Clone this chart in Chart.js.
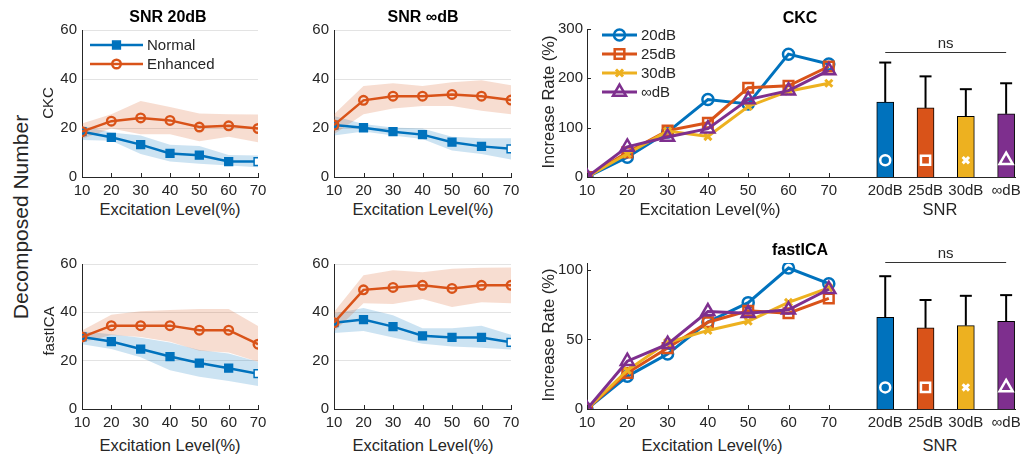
<!DOCTYPE html>
<html>
<head>
<meta charset="utf-8">
<script src="https://cdn.jsdelivr.net/npm/chart.js@4/dist/chart.umd.min.js"></script>
<style>
  html, body { margin: 0; padding: 0; background: #fff; }
  #fig { position: relative; width: 1029px; height: 458px; overflow: hidden;
         font-family: "Liberation Sans", Arial, sans-serif; color: #262626; }
  #fig canvas { position: absolute; }
  .lbl { position: absolute; white-space: nowrap; line-height: 1; }
</style>
</head>
<body>
<div id="fig"></div>
<script>
// ---- data ----
const levels = [10, 20, 30, 40, 50, 60, 70];
const panelYTicks = [0, 20, 40, 60];

// CKC, SNR 20dB
const ckc20Normal   = [18.5, 16.2, 13.2, 9.6, 8.9, 6.3, 6.3];
const ckc20NormalHi = [20.9, 18.2, 16.9, 13.2, 12.7, 9.0, 8.8];
const ckc20NormalLo = [15.1, 14.8, 9.4, 6.3, 5.4, 4.7, 4.0];
const ckc20Enh      = [18.5, 22.8, 24.1, 23.1, 20.4, 20.9, 19.8];
const ckc20EnhHi    = [21.8, 25.6, 31.0, 28.6, 25.9, 25.6, 25.5];
const ckc20EnhLo    = [15.5, 19.8, 17.5, 17.5, 14.6, 16.4, 14.2];

// CKC, SNR inf dB
const ckcInfNormal   = [21.2, 20.1, 18.5, 17.3, 14.2, 12.5, 11.5];
const ckcInfNormalHi = [24.9, 21.6, 20.2, 19.8, 16.4, 15.8, 15.8];
const ckcInfNormalLo = [16.9, 18.6, 16.9, 15.5, 10.8, 9.4, 7.1];
const ckcInfEnh      = [21.2, 31.3, 33.0, 33.0, 33.7, 33.0, 31.4];
const ckcInfEnhHi    = [25.6, 37.1, 38.3, 37.1, 38.7, 39.5, 37.5];
const ckcInfEnhLo    = [17.5, 25.6, 28.0, 29.0, 29.0, 27.0, 25.6];

// fastICA, SNR 20dB
const ica20Normal   = [29.8, 27.9, 24.8, 21.7, 19.0, 16.9, 14.6];
const ica20NormalHi = [32.2, 30.9, 29.5, 27.5, 24.4, 23.0, 19.6];
const ica20NormalLo = [26.8, 24.8, 21.4, 16.0, 13.3, 11.6, 9.5];
const ica20Enh      = [29.8, 34.5, 34.5, 34.5, 32.6, 32.6, 26.8];
const ica20EnhHi    = [32.5, 39.0, 40.4, 41.0, 41.4, 41.4, 34.3];
const ica20EnhLo    = [27.5, 30.6, 29.8, 27.8, 24.1, 23.4, 19.6];

// fastICA, SNR inf dB
const icaInfNormal   = [35.7, 37.0, 34.1, 30.3, 29.6, 29.6, 27.6];
const icaInfNormalHi = [39.5, 41.8, 38.8, 33.4, 33.4, 34.5, 30.7];
const icaInfNormalLo = [31.4, 32.3, 29.6, 27.0, 25.9, 25.3, 24.6];
const icaInfEnh      = [35.7, 49.3, 50.3, 51.2, 49.9, 51.2, 51.2];
const icaInfEnhHi    = [40.1, 55.3, 57.4, 56.6, 58.0, 58.4, 58.6];
const icaInfEnhLo    = [32.0, 43.8, 43.5, 45.5, 42.2, 44.2, 43.8];

// increase rate (%)
const snrLabels = ["20dB", "25dB", "30dB", "\u221EdB"];
const snrPos = [84, 94, 104, 114];
const ckcYTicks = [0, 100, 200, 300];
const ckcRate20  = [0, 40, 91, 157, 148, 249, 229];
const ckcRate25  = [0, 50, 94, 110, 181, 185, 224];
const ckcRate30  = [0, 47, 93, 82, 143, 174, 190];
const ckcRateInf = [0, 61, 81, 98, 157, 175, 216];
const ckcBarMean  = [152, 140, 123, 128];
const ckcBarUpper = [232, 204, 178, 190];

const icaYTicks = [0, 50, 100];
const icaRate20  = [0, 23.5, 39.5, 62.6, 76.5, 101.4, 90.1];
const icaRate25  = [0, 25.9, 43.8, 62.4, 70.6, 68.9, 79.5];
const icaRate30  = [0, 27.8, 47.8, 56.5, 63.1, 76.7, 87.1];
const icaRateInf = [0, 34.4, 46.6, 70.1, 68.9, 71.3, 86.1];
const icaBarMean  = [65.9, 58.3, 60.0, 63.1];
const icaBarUpper = [95.5, 78.4, 81.4, 81.9];

// ---- styling ----
const BLUE = "#0072BD", ORANGE = "#D95319", YELLOW = "#EDB120", PURPLE = "#7E2F8E";
const INK = "#262626";
const FONT = '"Liberation Sans", Arial, sans-serif';
const fig = document.getElementById("fig");
Chart.defaults.font.family = FONT;
Chart.defaults.color = INK;

const pts = (ys) => ys.map((y, i) => ({ x: levels[i], y }));

function makeCanvas(area, yW, xH, padT, padR) {
  const left = area.l - yW, top = area.t - padT;
  const width = area.r + padR - left, height = area.b + xH - top;
  const c = document.createElement("canvas");
  c.width = width; c.height = height;
  Object.assign(c.style, { left: left + "px", top: top + "px", width: width + "px", height: height + "px" });
  fig.appendChild(c);
  return c;
}

function label(text, x, y, size, opt = {}) {
  const d = document.createElement("div");
  d.className = "lbl";
  d.textContent = text;
  d.style.left = x + "px";
  d.style.top = y + "px";
  d.style.fontSize = size + "px";
  if (opt.bold) { d.style.fontWeight = "bold"; d.style.color = "#000"; }
  d.style.transform = "translate(-50%,-50%)" + (opt.rot ? " rotate(-90deg)" : "");
  fig.appendChild(d);
}

function drawMarker(ctx, ds, x, y) {
  const bg = Array.isArray(ds.pointBackgroundColor) ? ds.pointBackgroundColor[1] : ds.pointBackgroundColor;
  ctx.fillStyle = bg;
  ctx.strokeStyle = ds.pointBorderColor;
  ctx.lineWidth = ds.pointBorderWidth;
  Chart.helpers.drawPoint(ctx, { pointStyle: ds.pointStyle, radius: ds.pointRadius, borderWidth: ds.pointBorderWidth, rotation: 0 }, x, y);
}

// inward ticks, error bars, "ns" bracket and a MATLAB-like legend
const decor = {
  id: "decor",
  afterDraw(chart, args, o) {
    const { ctx, chartArea: a, scales } = chart;
    const seg = (x1, y1, x2, y2) => { ctx.beginPath(); ctx.moveTo(x1, y1); ctx.lineTo(x2, y2); ctx.stroke(); };
    ctx.save();
    ctx.strokeStyle = INK; ctx.lineWidth = 1;
    (o.xTicks || []).forEach(v => { const px = Math.round(scales.x.getPixelForValue(v)) + 0.5; seg(px, a.bottom, px, a.bottom - 4); });
    (o.yTicks || []).forEach(v => { const py = Math.round(scales.y.getPixelForValue(v)) + 0.5; seg(a.left, py, a.left + 4, py); });

    if (o.errors) {
      ctx.strokeStyle = "#000"; ctx.lineWidth = 2;
      o.errors.pos.forEach((xv, i) => {
        const px = scales.x.getPixelForValue(xv);
        const y0 = scales.y.getPixelForValue(o.errors.mean[i]);
        const y1 = scales.y.getPixelForValue(o.errors.upper[i]);
        seg(px, y0, px, y1);
        seg(px - 6, y1, px + 6, y1);
      });
    }
    if (o.ns) {
      const x1 = scales.x.getPixelForValue(o.ns.from), x2 = scales.x.getPixelForValue(o.ns.to);
      const py = Math.round(scales.y.getPixelForValue(o.ns.level)) + 0.5;
      ctx.strokeStyle = "#333"; ctx.lineWidth = 1.2;
      seg(x1, py, x2, py);
      ctx.fillStyle = INK; ctx.font = "15px " + FONT;
      ctx.textAlign = "center"; ctx.textBaseline = "bottom";
      ctx.fillText("ns", (x1 + x2) / 2, py - 1);
    }
    if (o.legend) {
      const L = o.legend;
      ctx.font = "15px " + FONT; ctx.textAlign = "left"; ctx.textBaseline = "middle";
      L.items.forEach((idx, k) => {
        const ds = chart.data.datasets[idx];
        const y = a.top + L.rows[k];
        const x0 = a.left + L.x0, x1 = a.left + L.x1;
        ctx.strokeStyle = ds.borderColor; ctx.lineWidth = ds.borderWidth;
        seg(x0, y, x1, y);
        drawMarker(ctx, ds, (x0 + x1) / 2, y);
        ctx.fillStyle = INK;
        ctx.fillText(ds.label, a.left + L.tx, y + 1);
      });
    }
    ctx.restore();
  }
};

const tickFont = { size: 15, family: FONT };

function panelChart(area, s) {
  const canvas = makeCanvas(area, 36, 22, 12, 14);
  const band = (data, color, fill, order) => ({
    data: pts(data), borderWidth: 0, pointRadius: 0, backgroundColor: color, fill, order, tension: 0
  });
  new Chart(canvas, {
    type: "line",
    data: {
      datasets: [
        { label: "Enhanced", data: pts(s.enh), borderColor: ORANGE, borderWidth: 2.5, tension: 0,
          pointStyle: "circle", pointRadius: 4.3, pointBorderWidth: 2.4, pointBorderColor: ORANGE,
          pointBackgroundColor: "rgba(255,255,255,0)", order: 0 },
        { label: "Normal", data: pts(s.normal), borderColor: BLUE, borderWidth: 2.5, tension: 0,
          pointStyle: "rect", pointRadius: 5.5, pointBorderWidth: 1.5, pointBorderColor: BLUE,
          pointBackgroundColor: s.normal.map((v, i) => i === s.normal.length - 1 ? "#fff" : BLUE), order: 1 },
        band(s.enhHi, "rgba(217,83,25,0.2)", "+1", 2),
        band(s.enhLo, "rgba(0,0,0,0)", false, 3),
        band(s.normalHi, "rgba(0,114,189,0.2)", "+1", 4),
        band(s.normalLo, "rgba(0,0,0,0)", false, 5)
      ]
    },
    options: {
      responsive: false, animation: false, events: [],
      layout: { padding: { left: 0, top: 12, right: 14, bottom: 0 } },
      plugins: {
        legend: { display: false }, tooltip: { enabled: false },
        decor: { xTicks: levels, legend: s.legend ? { items: [1, 0], rows: [15, 34], x0: 8, x1: 61, tx: 65 } : null }
      },
      scales: {
        x: { type: "linear", min: 10, max: 70, offset: false,
             afterBuildTicks: sc => { sc.ticks = levels.map(value => ({ value })); },
             ticks: { color: INK, font: tickFont, padding: 5, maxRotation: 0, autoSkip: false },
             grid: { display: false, drawTicks: false },
             border: { display: true, color: INK, width: 1 },
             afterFit: sc => { sc.height = 22; } },
        y: { min: 0, max: 60,
             afterBuildTicks: sc => { sc.ticks = panelYTicks.map(value => ({ value })); },
             ticks: { color: INK, font: tickFont, padding: 5 },
             grid: { color: "#e3e3e3", drawTicks: false },
             border: { display: true, color: INK, width: 1 },
             afterFit: sc => { sc.width = 36; } }
      }
    },
    plugins: [decor]
  });
}

function rateChart(area, s) {
  const canvas = makeCanvas(area, 40, 22, 12, 12);
  const xTickVals = levels.concat(snrPos);
  const line = (lbl, data, color, style, r, bw, order) => ({
    label: lbl, data: pts(data), borderColor: color, borderWidth: 3, tension: 0,
    pointStyle: style, pointRadius: r, pointBorderWidth: bw, pointBorderColor: color,
    pointBackgroundColor: "rgba(255,255,255,0)", order
  });
  const barColors = [BLUE, ORANGE, YELLOW, PURPLE];
  new Chart(canvas, {
    type: "line",
    data: {
      datasets: [
        line("20dB", s.rates[0], BLUE, "circle", 5.5, 2.5, 4),
        line("25dB", s.rates[1], ORANGE, "rect", 6.8, 2.5, 3),
        line("30dB", s.rates[2], YELLOW, "crossRot", 5, 3, 2),
        line("\u221EdB", s.rates[3], PURPLE, "triangle", 7.5, 2.5, 1),
        { type: "bar", data: snrPos.map((x, i) => ({ x, y: s.barMean[i] })), backgroundColor: barColors,
          borderColor: "#000", borderWidth: 1, barThickness: 17, grouped: false, order: 6 },
        { data: snrPos.map(x => ({ x, y: s.markerLevel })), showLine: false,
          pointStyle: ["circle", "rect", "crossRot", "triangle"], pointRadius: [5, 6.5, 4.5, 7.5],
          pointBorderWidth: [2.5, 2.5, 3, 2.5], pointBorderColor: "#fff", pointBackgroundColor: barColors, order: 0 }
      ]
    },
    options: {
      responsive: false, animation: false, events: [],
      layout: { padding: { left: 0, top: 12, right: 12, bottom: 0 } },
      plugins: {
        legend: { display: false }, tooltip: { enabled: false },
        decor: {
          xTicks: levels, yTicks: s.yTicks,
          errors: { pos: snrPos, mean: s.barMean, upper: s.barUpper },
          ns: { from: snrPos[0], to: snrPos[3], level: s.nsLevel },
          legend: s.legend ? { items: [0, 1, 2, 3], rows: [6, 25, 44, 63], x0: 15, x1: 50, tx: 54 } : null
        }
      },
      scales: {
        x: { type: "linear", min: 10, max: 116.2, offset: false,
             afterBuildTicks: sc => { sc.ticks = xTickVals.map(value => ({ value })); },
             ticks: { color: INK, font: tickFont, padding: 5, maxRotation: 0, autoSkip: false,
                      callback: v => { const k = snrPos.indexOf(v); return k >= 0 ? snrLabels[k] : String(v); } },
             grid: { display: false, drawTicks: false },
             border: { display: true, color: INK, width: 1 },
             afterFit: sc => { sc.height = 22; } },
        y: { min: 0, max: s.yMax,
             afterBuildTicks: sc => { sc.ticks = s.yTicks.map(value => ({ value })); },
             ticks: { color: INK, font: tickFont, padding: 4 },
             grid: { display: false, drawTicks: false },
             border: { display: true, color: INK, width: 1 },
             afterFit: sc => { sc.width = 40; } }
      }
    },
    plugins: [decor]
  });
}

panelChart({ l: 82, r: 258, t: 28, b: 177 }, { normal: ckc20Normal, normalLo: ckc20NormalLo, normalHi: ckc20NormalHi,
  enh: ckc20Enh, enhLo: ckc20EnhLo, enhHi: ckc20EnhHi, legend: true });
panelChart({ l: 334, r: 511, t: 28, b: 177 }, { normal: ckcInfNormal, normalLo: ckcInfNormalLo, normalHi: ckcInfNormalHi,
  enh: ckcInfEnh, enhLo: ckcInfEnhLo, enhHi: ckcInfEnhHi });
panelChart({ l: 82, r: 258, t: 262, b: 409 }, { normal: ica20Normal, normalLo: ica20NormalLo, normalHi: ica20NormalHi,
  enh: ica20Enh, enhLo: ica20EnhLo, enhHi: ica20EnhHi });
panelChart({ l: 334, r: 511, t: 262, b: 409 }, { normal: icaInfNormal, normalLo: icaInfNormalLo, normalHi: icaInfNormalHi,
  enh: icaInfEnh, enhLo: icaInfEnhLo, enhHi: icaInfEnhHi });

rateChart({ l: 587, r: 1015, t: 28, b: 177 }, { rates: [ckcRate20, ckcRate25, ckcRate30, ckcRateInf],
  yTicks: ckcYTicks, yMax: 300, barMean: ckcBarMean, barUpper: ckcBarUpper, markerLevel: 34, nsLevel: 254, legend: true });
rateChart({ l: 587, r: 1015, t: 262, b: 409 }, { rates: [icaRate20, icaRate25, icaRate30, icaRateInf],
  yTicks: icaYTicks, yMax: 105, barMean: icaBarMean, barUpper: icaBarUpper, markerLevel: 15.5, nsLevel: 106 });

// figure text
label("Decomposed Number", 20, 217, 21, { rot: true });
label("CKC", 47, 103, 15, { rot: true });
label("fastICA", 48, 331, 15, { rot: true });
label("Increase Rate (%)", 548, 102, 16.5, { rot: true });
label("Increase Rate (%)", 548, 335, 16.5, { rot: true });
label("SNR 20dB", 168, 17, 16, { bold: true });
label("SNR \u221EdB", 423, 17, 16, { bold: true });
label("CKC", 800, 18, 16, { bold: true });
label("fastICA", 800, 250, 16, { bold: true });
label("Excitation Level(%)", 170, 209, 16.5);
label("Excitation Level(%)", 423, 209, 16.5);
label("Excitation Level(%)", 170, 445, 16.5);
label("Excitation Level(%)", 423, 445, 16.5);
label("Excitation Level(%)", 710, 209, 16.5);
label("Excitation Level(%)", 712, 445, 16.5);
label("SNR", 940, 209, 16.5);
label("SNR", 940, 445, 16.5);
</script>
</body>
</html>
